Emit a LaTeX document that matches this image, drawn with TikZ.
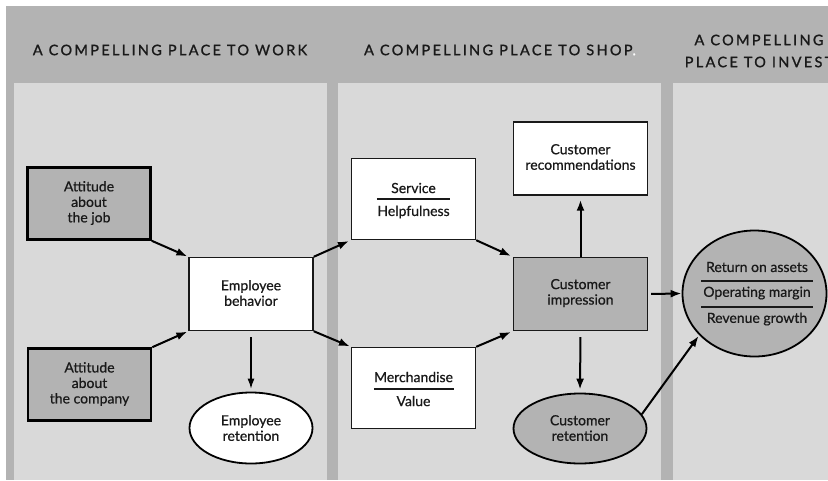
\documentclass[tikz,border=0pt]{standalone}
\usepackage{fontspec}
\setmainfont{Lato}
\newfontfamily\headfont[LetterSpace=16,FakeBold=1.2]{Lato}
\newfontfamily\bodyfont[FakeBold=0.6]{Lato}
\usetikzlibrary{shapes.geometric,arrows.meta}
\definecolor{bandgray}{RGB}{179,179,179}
\definecolor{panelgray}{RGB}{217,217,217}
\definecolor{boxgray}{RGB}{179,179,179}
\definecolor{inkc}{RGB}{25,25,25}
\tikzset{
  heading/.style={text=inkc,font=\headfont\fontsize{14.5}{22}\selectfont,align=center,inner sep=0pt},
  bodytext/.style={text=inkc,font=\bodyfont\fontsize{14}{15.5}\selectfont,align=center,inner sep=0pt},
  attbox/.style={draw=black,line width=2.6pt,fill=boxgray,minimum width=123pt,minimum height=72pt,inner sep=0pt},
  whitebox/.style={draw=inkc,line width=1.4pt,fill=white,minimum width=124pt,minimum height=73pt,inner sep=0pt},
  graybox/.style={draw=inkc,line width=1.4pt,fill=boxgray,minimum width=134pt,minimum height=73pt,inner sep=0pt},
  oval/.style={ellipse,draw=black,line width=1.8pt,inner sep=0pt},
  arr/.style={-{Latex[length=11pt,width=8pt]},line width=2pt,draw=black},
  thinarr/.style={-{Latex[length=10pt,width=7pt]},line width=1.1pt,draw=black},
  sepline/.style={line width=1.4pt,draw=inkc}
}
\begin{document}
\begin{tikzpicture}[x=1pt,y=-1pt]
\clip (0,0) rectangle (828,480);
\fill[white] (0,0) rectangle (828,480);
\fill[bandgray] (6,6) rectangle (828,480);
\fill[panelgray] (14,83) rectangle (327,480);
\fill[panelgray] (338,83) rectangle (661,480);
\fill[panelgray] (673,83) rectangle (828,480);

\node[heading] (h1) at (170,50) {A COMPELLING PLACE TO WORK};
\node[heading] (h2) at (500,50) {A COMPELLING PLACE TO SHOP{\color{white}.}};
\node[heading] (h3) at (759,51) {A COMPELLING\\PLACE TO INVEST};

% nodes
\node[attbox] (job) at (89,203.5) {};
\node[bodytext] (jobt) at (89,203) {Attitude\\about\\the job};
\node[attbox] (company) at (89.5,384.5) {};
\node[bodytext] (companyt) at (89.5,384) {Attitude\\about\\the company};

\node[whitebox] (behavior) at (251,294) {};
\node[bodytext] (behaviort) at (251,293) {Employee\\behavior};
\node[oval,fill=white,minimum width=123pt,minimum height=71pt] (eret) at (251,428) {};
\node[bodytext] (erett) at (251,428) {Employee\\retention};

\node[whitebox,minimum height=81pt] (service) at (413.5,199) {};
\node[bodytext] (servicet1) at (413.5,188) {Service};
\node[bodytext] (servicet2) at (413.5,212) {Helpfulness};
\draw[sepline] ([xshift=26pt]service.west) -- ([xshift=-26pt]service.east);

\node[whitebox,minimum height=81pt] (merch) at (413.5,388) {};
\node[bodytext] (mercht1) at (413.5,377) {Merchandise};
\node[bodytext] (mercht2) at (413.5,401) {Value};
\draw[sepline] ([yshift=-1pt,xshift=23pt]merch.west) -- ([yshift=-1pt,xshift=-22pt]merch.east);

\node[whitebox,minimum width=134pt] (rec) at (580.5,158.5) {};
\node[bodytext] (rect) at (580.5,157) {Customer\\recommendations};

\node[graybox] (imp) at (580.5,294) {};
\node[bodytext] (impt) at (580.5,293) {Customer\\impression};

\node[oval,fill=boxgray,minimum width=133pt,minimum height=70pt] (cret) at (580,428.5) {};
\node[bodytext] (crett) at (580,428) {Customer\\retention};

\node[oval,fill=boxgray,minimum width=144pt,minimum height=126pt] (fin) at (754.5,293.5) {};
\node[bodytext] (fint1) at (757,267) {Return on assets};
\node[bodytext] (fint2) at (757,293) {Operating margin};
\node[bodytext] (fint3) at (757,319) {Revenue growth};
\draw[sepline] (701,281) -- (813,281);
\draw[sepline] (701,307) -- (813,307);

% connectors
\draw[arr,shorten >=1pt] (job.south east) -- (behavior.north west);
\draw[arr,shorten >=1pt] (company.north east) -- (behavior.south west);
\draw[arr,shorten >=2pt] (behavior.north east) -- (service.south west);
\draw[arr,shorten >=1pt] (behavior.south east) -- (merch.north west);
\draw[arr,shorten >=2pt] (service.south east) -- (imp.north west);
\draw[arr,shorten >=2pt] (merch.north east) -- (imp.south west);
\draw[thinarr,shorten <=6pt,shorten >=3pt] (behavior.south) -- (eret.north);
\draw[arr,shorten >=4pt] (imp.north) -- (rec.south);
\draw[arr,shorten <=6pt,shorten >=3pt] (imp.south) -- (cret.north);
\draw[arr,shorten <=3pt] (imp.east) -- (fin.west);
\draw[arr,shorten >=1pt] (cret.13) -- (fin.217);
\end{tikzpicture}
\end{document}
